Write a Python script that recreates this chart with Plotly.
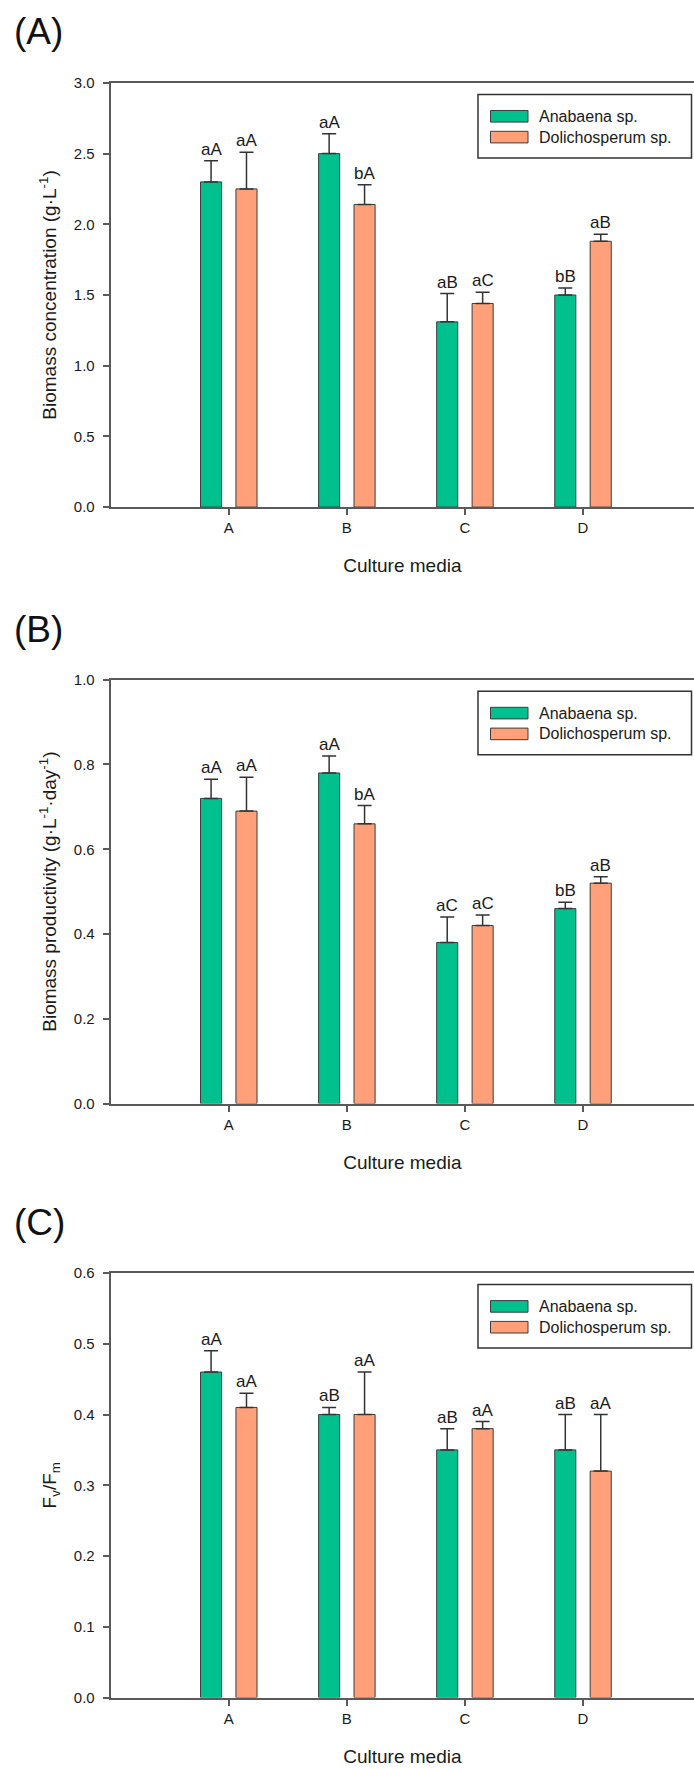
import plotly.graph_objects as go

# ---------------- data ----------------
categories = ["A", "B", "C", "D"]
series_names = ["Anabaena sp.", "Dolichosperum sp."]

conc_anabaena = [2.30, 2.50, 1.31, 1.50]
conc_anabaena_err = [0.15, 0.14, 0.20, 0.05]
conc_dolicho = [2.25, 2.14, 1.44, 1.88]
conc_dolicho_err = [0.26, 0.14, 0.08, 0.05]
conc_anabaena_lbl = ["aA", "aA", "aB", "bB"]
conc_dolicho_lbl = ["aA", "bA", "aC", "aB"]

prod_anabaena = [0.72, 0.78, 0.38, 0.46]
prod_anabaena_err = [0.045, 0.04, 0.06, 0.015]
prod_dolicho = [0.69, 0.66, 0.42, 0.52]
prod_dolicho_err = [0.08, 0.043, 0.025, 0.015]
prod_anabaena_lbl = ["aA", "aA", "aC", "bB"]
prod_dolicho_lbl = ["aA", "bA", "aC", "aB"]

fvfm_anabaena = [0.46, 0.40, 0.35, 0.35]
fvfm_anabaena_err = [0.03, 0.01, 0.03, 0.05]
fvfm_dolicho = [0.41, 0.40, 0.38, 0.32]
fvfm_dolicho_err = [0.02, 0.06, 0.01, 0.08]
fvfm_anabaena_lbl = ["aA", "aB", "aB", "aB"]
fvfm_dolicho_lbl = ["aA", "aA", "aA", "aA"]

panel_labels = ["(A)", "(B)", "(C)"]
y_titles = ["Biomass concentration (g·L<sup>-1</sup>)",
            "Biomass productivity (g·L<sup>-1</sup>·day<sup>-1</sup>)",
            "F<sub>v</sub>/F<sub>m</sub>"]
x_title = "Culture media"
y_ranges = [[0, 3.0], [0, 1.0], [0, 0.6]]
y_dticks = [0.5, 0.2, 0.1]

# ---------------- style ----------------
W, H = 694, 1769
GREEN = "#00C08D"
SALMON = "#FFA07A"
EDGE = "#3c3c3c"
AXIS = "#5a5a5a"
FONT = "Liberation Sans, Arial, sans-serif"
TXT = "#1a1a1a"

# plot area top/bottom in pixels (from top of page)
plot_px = [(82.9, 507.1), (679.7, 1103.6), (1273.0, 1697.5)]
label_y_px = [31.5, 630.0, 1222.0]
x_left_px = 110.7
OFF = 0.15  # group offset of each bar (category units)


def fx(px):
    return px / W


def fy(px):
    return 1 - px / H


panels = [
    (conc_anabaena, conc_anabaena_err, conc_anabaena_lbl,
     conc_dolicho, conc_dolicho_err, conc_dolicho_lbl),
    (prod_anabaena, prod_anabaena_err, prod_anabaena_lbl,
     prod_dolicho, prod_dolicho_err, prod_dolicho_lbl),
    (fvfm_anabaena, fvfm_anabaena_err, fvfm_anabaena_lbl,
     fvfm_dolicho, fvfm_dolicho_err, fvfm_dolicho_lbl),
]

fig = go.Figure()
annotations = []
shapes = []

for p, (a_v, a_e, a_l, d_v, d_e, d_l) in enumerate(panels):
    n = "" if p == 0 else str(p + 1)
    xa, ya = "x" + n, "y" + n
    for vals, errs, color, name in [(a_v, a_e, GREEN, series_names[0]),
                                    (d_v, d_e, SALMON, series_names[1])]:
        fig.add_trace(go.Bar(
            x=categories, y=vals, name=name, xaxis=xa, yaxis=ya,
            marker=dict(color=color, line=dict(color=EDGE, width=1)),
            error_y=dict(type="data", symmetric=False, array=errs,
                         arrayminus=[0] * len(errs), color="#333333",
                         thickness=1.5, width=7),
            showlegend=False,
        ))
    # significance letters above error bars
    for i in range(len(categories)):
        for vals, errs, lbls, sgn in [(a_v, a_e, a_l, -1), (d_v, d_e, d_l, 1)]:
            annotations.append(dict(
                x=i + sgn * OFF, y=vals[i] + errs[i], xref=xa, yref=ya,
                text=lbls[i], showarrow=False, xanchor="center",
                yanchor="bottom", yshift=0,
                font=dict(family=FONT, size=17, color=TXT)))

    top, bot = plot_px[p]
    dom = [fy(bot), fy(top)]
    axis_common = dict(showline=True, linecolor=AXIS, linewidth=2,
                       ticks="outside", ticklen=6, tickwidth=1.5,
                       tickcolor=AXIS, showgrid=False, zeroline=False,
                       tickfont=dict(family=FONT, size=15, color=TXT))
    fig.update_layout(**{
        "xaxis" + n: dict(
            domain=[fx(x_left_px), 1.0], anchor=ya, range=[-1.0, 3.94],
            type="category", mirror=True,
            title=dict(text=x_title, standoff=24,
                       font=dict(family=FONT, size=19, color=TXT)),
            automargin=False, **axis_common),
        "yaxis" + n: dict(
            domain=dom, anchor=xa, range=y_ranges[p], dtick=y_dticks[p],
            tickformat=".1f", ticklabelstandoff=5,
            title=dict(text=y_titles[p], standoff=12,
                       font=dict(family=FONT, size=19, color=TXT)),
            automargin=False, **axis_common),
    })

    # panel label
    annotations.append(dict(
        x=fx(12), y=fy(label_y_px[p]), xref="paper", yref="paper",
        text=panel_labels[p], showarrow=False, xanchor="left",
        yanchor="middle", font=dict(family=FONT, size=37, color="#111")))

    # legend box (drawn manually to reproduce the wide swatches)
    shapes.append(dict(type="rect", xref="paper", yref="paper",
                       x0=fx(478), x1=fx(691.5), y0=fy(top + 75),
                       y1=fy(top + 11.5),
                       line=dict(color="#333", width=1.5),
                       fillcolor="white"))
    for k, (color, name) in enumerate([(GREEN, series_names[0]),
                                        (SALMON, series_names[1])]):
        yc = top + 33.4 + k * 20.8
        shapes.append(dict(type="rect", xref="paper", yref="paper",
                           x0=fx(490.5), x1=fx(528), y0=fy(yc + 5.8),
                           y1=fy(yc - 5.8), fillcolor=color,
                           line=dict(color=EDGE, width=1)))
        annotations.append(dict(
            x=fx(537), y=fy(yc), xref="paper", yref="paper", text=name,
            showarrow=False, xanchor="left", yanchor="middle",
            font=dict(family=FONT, size=16, color=TXT)))

fig.update_layout(
    width=W, height=H,
    margin=dict(l=0, r=0, t=0, b=0),
    paper_bgcolor="white", plot_bgcolor="white",
    barmode="group", bargap=0.40, bargroupgap=0.405,
    annotations=annotations, shapes=shapes,
    font=dict(family=FONT, color=TXT),
    showlegend=False,
)

fig.write_html("out.html")
